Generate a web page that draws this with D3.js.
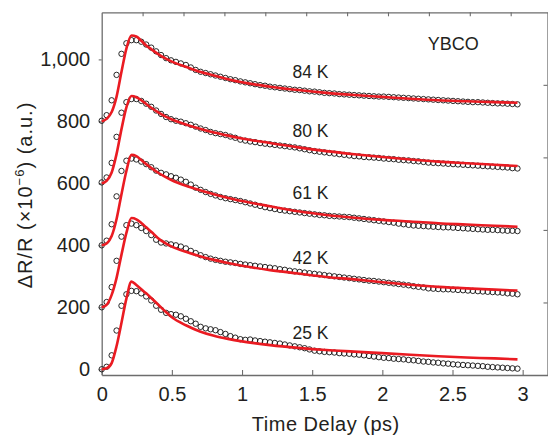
<!DOCTYPE html>
<meta charset="utf-8">
<script src="https://d3js.org/d3.v7.min.js"></script>
<style>
  body { margin: 0; background: #fff; }
  text { font-family: "Liberation Sans", Arial, Helvetica, sans-serif; fill: #231f20; }
</style>
<div id="chart"></div>
<script>
// pump-probe delays (ps) of the measured points
var delays = [0, .035, .071, .106, .141, .176, .212, .247, .282, .317,
  .353, .388, .423, .459, .494, .529, .564, .6, .635, .67,
  .705, .741, .776, .811, .846, .882, .917, .952, .988, 1.023,
  1.058, 1.093, 1.129, 1.164, 1.199, 1.234, 1.27, 1.305, 1.34, 1.376,
  1.411, 1.446, 1.481, 1.517, 1.552, 1.587, 1.622, 1.658, 1.693, 1.728,
  1.764, 1.799, 1.834, 1.869, 1.905, 1.94, 1.975, 2.01, 2.046, 2.081,
  2.116, 2.151, 2.187, 2.222, 2.257, 2.293, 2.328, 2.363, 2.398, 2.434,
  2.469, 2.504, 2.539, 2.575, 2.61, 2.645, 2.681, 2.716, 2.751, 2.786,
  2.822, 2.857, 2.892, 2.927, 2.963];

var temps = ["25 K", "42 K", "61 K", "80 K", "84 K"];
var offsets = [0, 200, 400, 600, 800];

// measured dR/R (x1e-6), before the vertical offset
var data25 = [0, 8, 45, 125, 205, 242, 253, 252, 245, 235,
  222, 205, 192, 182, 178, 176, 171, 163, 155, 147,
  137, 132, 129, 126, 120, 114, 107, 102, 97, 95,
  96, 93, 91, 89, 87, 85, 83, 80, 77, 74,
  71, 68, 64, 60, 58, 56, 55, 54, 52, 51,
  50, 48, 47, 45, 43, 41, 39, 37, 36, 34,
  33, 32, 30, 29, 27, 25, 24, 22, 21, 19,
  18, 16, 15, 14, 13, 12, 11, 10, 8, 7,
  6, 5, 4, 3, 2];
var data42 = [0, 17, 65, 150, 228, 265, 270, 265, 256, 246,
  233, 218, 209, 206, 203, 200, 196, 190, 182, 175,
  168, 162, 157, 153, 150, 147, 145, 143, 140, 138,
  136, 134, 132, 130, 128, 126, 123, 121, 118, 116,
  114, 112, 110, 108, 106, 104, 102, 100, 98, 96,
  94, 92, 90, 88, 86, 85, 83, 81, 79, 77,
  75, 73, 71, 68, 66, 64, 61, 60, 59, 58,
  58, 57, 56, 55, 54, 53, 52, 51, 50, 49,
  48, 47, 45, 44, 42];
var data61 = [0, 15, 68, 158, 240, 273, 280, 277, 270, 262,
  252, 241, 234, 229, 223, 218, 212, 205, 196, 186,
  179, 172, 166, 161, 156, 152, 149, 146, 143, 139,
  135, 131, 127, 123, 120, 117, 114, 112, 110, 108,
  106, 104, 102, 100, 98, 97, 95, 94, 93, 92,
  91, 89, 87, 85, 83, 81, 79, 77, 75, 73,
  70, 68, 66, 64, 63, 62, 61, 60, 59, 58,
  58, 57, 56, 55, 54, 53, 52, 51, 50, 50,
  49, 48, 47, 47, 46];
var data80 = [3, 19, 66, 150, 228, 262, 272, 272, 266, 257,
  247, 235, 224, 214, 207, 202, 199, 194, 189, 183,
  177, 172, 166, 162, 159, 156, 151, 147, 141, 138,
  135, 133, 130, 128, 126, 124, 122, 120, 118, 116,
  113, 110, 107, 104, 102, 100, 98, 96, 94, 92,
  90, 88, 87, 85, 84, 83, 82, 80, 79, 78,
  76, 75, 74, 72, 71, 69, 67, 66, 65, 64,
  63, 62, 61, 60, 59, 58, 57, 56, 55, 54,
  53, 52, 51, 49, 48];
var data84 = [2, 20, 68, 150, 218, 252, 262, 262, 257, 248,
  238, 226, 214, 204, 197, 192, 187, 182, 174, 166,
  160, 156, 152, 148, 144, 140, 136, 133, 129, 126,
  123, 120, 117, 115, 112, 110, 108, 106, 104, 102,
  101, 99, 97, 96, 94, 92, 91, 90, 88, 87,
  86, 85, 84, 83, 82, 81, 80, 80, 79, 78,
  77, 76, 75, 74, 73, 72, 71, 70, 69, 68,
  67, 66, 65, 64, 63, 62, 62, 61, 60, 59,
  58, 58, 57, 56, 55];

// fitted curves (red), sampled at these delays
var fitDelays = [0, .035, .071, .106, .141, .176, .212, .247, .282, .317,
  .353, .4, .45, .5, .6, .7, .8, .9, 1.0, 1.2,
  1.4, 1.6, 1.8, 2.0, 2.2, 2.4, 2.6, 2.8, 2.963];
var fit25 = [0, 3, 20, 75, 150, 228, 283, 272, 258, 245,
  230, 210, 188, 168, 142, 122, 108, 98, 90, 78,
  69, 62, 57, 52, 47, 42, 38, 35, 32];
var fit42 = [0, 8, 40, 95, 170, 240, 288, 284, 272, 258,
  244, 224, 208, 196, 179, 165, 153, 143, 134, 120,
  109, 98, 90, 81, 73, 66, 61, 57, 54];
var fit61 = [0, 6, 30, 85, 165, 240, 292, 288, 275, 262,
  250, 235, 222, 210, 192, 178, 165, 153, 143, 126,
  110, 98, 89, 82, 77, 71, 67, 63, 60];
var fit80 = [0, 8, 35, 95, 175, 245, 282, 278, 268, 256,
  244, 230, 217, 206, 190, 176, 164, 154, 145, 130,
  116, 104, 94, 85, 77, 70, 65, 60, 56];
var fit84 = [0, 8, 30, 80, 160, 235, 277, 274, 260, 245,
  233, 218, 204, 193, 176, 160, 148, 136, 126, 112,
  101, 92, 85, 79, 73, 68, 65, 62, 60];

var measured = [data25, data42, data61, data80, data84];
var fits = [fit25, fit42, fit61, fit80, fit84];

// temperature label spots (delay, signal above the offset)
var labelDelay = 1.36;
var labelLift = [97, 140, 149, 148, 139];

var xTicks = [0, 0.5, 1, 1.5, 2, 2.5, 3];
var yTicks = [0, 200, 400, 600, 800, 1000];

// set the dimensions of the graph
var width = 548, height = 438;
var margin = {top: 12.3, right: 0.5, bottom: 63, left: 101.7};
var axisColor = "#6d6d6d";

var svg = d3.select("#chart")
  .append("svg")
    .attr("width", width)
    .attr("height", height);

var x = d3.scaleLinear()
  .domain([0, 3.177])
  .range([margin.left, width - margin.right]);
var y = d3.scaleLinear()
  .domain([-18.5, 1152])
  .range([height - margin.bottom, margin.top]);

// unlabelled scales of the top and right frame
var xTop = d3.scaleLinear().domain([0, 10.9]).range(x.range());
var yRight = d3.scaleLinear().domain([0, 5]).range(y.range());

function styleAxis(g) {
  g.select(".domain").attr("stroke", axisColor).attr("stroke-width", 1.3);
  g.selectAll(".tick line").attr("stroke", axisColor).attr("stroke-width", 1.1);
  g.selectAll(".tick text")
    .attr("fill", "#231f20")
    .style("font-size", "20px")
    .style("font-family", "'Liberation Sans', Arial, sans-serif");
}

// top frame
svg.append("g")
  .attr("transform", "translate(0," + margin.top + ")")
  .call(d3.axisTop(xTop).tickValues(d3.range(1, 11)).tickSize(-4).tickSizeOuter(0).tickFormat(""))
  .call(styleAxis);

// right frame
svg.append("g")
  .attr("transform", "translate(" + (width - margin.right) + ",0)")
  .call(d3.axisRight(yRight).tickValues([1, 2, 3, 4]).tickSize(-4).tickSizeOuter(0).tickFormat(""))
  .call(styleAxis);

// X axis
svg.append("g")
  .attr("transform", "translate(0," + (height - margin.bottom) + ")")
  .call(d3.axisBottom(x).tickValues(xTicks).tickSize(-5).tickSizeOuter(0).tickPadding(12)
    .tickFormat(function(d) { return String(d); }))
  .call(styleAxis);

// Y axis
svg.append("g")
  .attr("transform", "translate(" + margin.left + ",0)")
  .call(d3.axisLeft(y).tickValues(yTicks).tickSize(3).tickSizeOuter(0).tickPadding(8.5)
    .tickFormat(d3.format(",")))
  .call(styleAxis);

// open circles: measured data
measured.forEach(function(values, k) {
  svg.append("g")
    .selectAll("circle")
    .data(values)
    .join("circle")
      .attr("cx", function(d, i) { return x(delays[i]); })
      .attr("cy", function(d) { return y(d + offsets[k]); })
      .attr("r", 2.7)
      .attr("fill", "none")
      .attr("stroke", "#111")
      .attr("stroke-width", 0.9);
});

// red lines: fits
var fitLine = d3.line()
  .x(function(d, i) { return x(fitDelays[i]); })
  .curve(d3.curveMonotoneX);

fits.forEach(function(values, k) {
  svg.append("path")
    .datum(values)
    .attr("fill", "none")
    .attr("stroke", "#ea1b22")
    .attr("stroke-width", 2.6)
    .attr("stroke-linejoin", "round")
    .attr("d", fitLine.y(function(d) { return y(d + offsets[k]); }));
});

// temperature labels
temps.forEach(function(t, k) {
  svg.append("text")
    .attr("x", x(labelDelay))
    .attr("y", y(offsets[k] + labelLift[k]))
    .style("font-size", "17.5px")
    .text(t);
});

svg.append("text")
  .attr("x", x(2.323))
  .attr("y", y(1030))
  .style("font-size", "18px")
  .text("YBCO");

// axis titles
svg.append("text")
  .attr("x", 325.8)
  .attr("y", 430.7)
  .attr("text-anchor", "middle")
  .style("font-size", "20px")
  .style("letter-spacing", "0.5px")
  .text("Time Delay (ps)");

var yTitle = svg.append("text")
  .attr("transform", "translate(32,195) rotate(-90)")
  .attr("text-anchor", "middle")
  .style("font-size", "20px")
  .style("letter-spacing", "1px");
yTitle.append("tspan").text("\u0394R/R (\u00d710");
yTitle.append("tspan").attr("dy", -8).style("font-size", "13px").text("\u22126");
yTitle.append("tspan").attr("dy", 8).text(") (a.u.)");
</script>
